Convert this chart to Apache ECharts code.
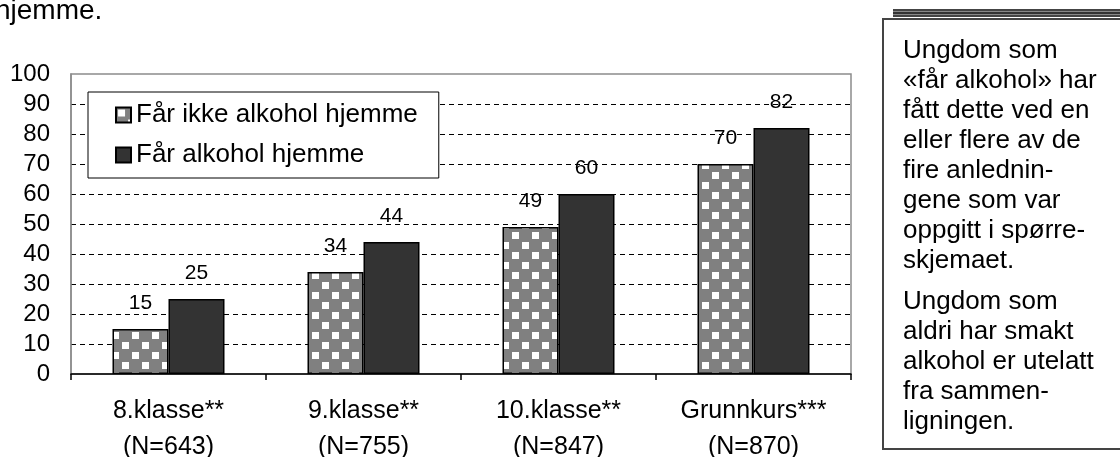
<!DOCTYPE html>
<html>
<head>
<meta charset="utf-8">
<script src="https://cdn.jsdelivr.net/npm/echarts@6/dist/echarts.min.js"></script>
<style>
    html, body { margin: 0; padding: 0; background: #fff; }
    #chart { width: 1120px; height: 457px; }
</style>
</head>
<body>
<div id="chart"></div>
<script>
// data
const categories = ['8.klasse**\n(N=643)', '9.klasse**\n(N=755)', '10.klasse**\n(N=847)', 'Grunnkurs***\n(N=870)']
const seriesNames = ['Får ikke alkohol hjemme', 'Får alkohol hjemme']
const ikkeHjemme = [15, 34, 49, 70]
const hjemme = [25, 44, 60, 82]
const yTicks = [0, 100, 10]   // min, max, interval
const boxPara1 = ['Ungdom som', '«får alkohol» har', 'fått dette ved en', 'eller flere av de', 'fire anlednin-', 'gene som var', 'oppgitt i spørre-', 'skjemaet.']
const boxPara2 = ['Ungdom som', 'aldri har smakt', 'alkohol er utelatt', 'fra sammen-', 'ligningen.']
const topText = 'hjemme.'

const font = "'Liberation Sans', Arial, sans-serif"

// grått mønster med hvite ruter
function makePattern() {
    const c = document.createElement('canvas')
    c.width = 20
    c.height = 20
    const g = c.getContext('2d')
    g.fillStyle = '#808080'
    g.fillRect(0, 0, 20, 20)
    g.fillStyle = '#ffffff'
    g.fillRect(2, 2, 7, 7)
    g.fillRect(12, 12, 7, 7)
    return c
}

// splitLine farger: ingen linje ved 0 og 100
const gridColors = []
for (let v = yTicks[0]; v <= yTicks[1]; v += yTicks[2]) {
    gridColors.push(v === yTicks[0] || v === yTicks[1] ? 'rgba(0,0,0,0)' : '#000')
}

let option = {
    animation: false,
    textStyle: { fontFamily: font },
    grid: {
        left: 71,
        right: 269,
        top: 74,
        bottom: 83,
        containLabel: false,
        outerBoundsMode: 'none',
        show: true,
        borderColor: '#8c8c8c',
        borderWidth: 1.5,
        backgroundColor: '#fff'
    },
    legend: {
        orient: 'vertical',
        left: 88,
        top: 92,
        itemWidth: 15,
        itemHeight: 15,
        itemGap: 14,
        padding: [10, 21, 10, 27],
        borderColor: '#000',
        borderWidth: 1,
        backgroundColor: '#fff',
        icon: 'rect',
        textStyle: { fontSize: 26, color: '#000', fontFamily: font },
        data: seriesNames
    },
    xAxis: {
        type: 'category',
        data: categories,
        axisLine: { lineStyle: { color: '#000', width: 1.5 } },
        axisTick: { show: true, length: 6, lineStyle: { color: '#000', width: 1.5 } },
        axisLabel: { fontSize: 25, color: '#000', margin: 19, lineHeight: 36, fontFamily: font, interval: 0 }
    },
    yAxis: {
        type: 'value',
        min: yTicks[0],
        max: yTicks[1],
        interval: yTicks[2],
        axisLine: { show: true, lineStyle: { color: '#8c8c8c', width: 1.5 } },
        axisTick: { show: false },
        axisLabel: { fontSize: 24, color: '#000', margin: 21, fontFamily: font },
        splitLine: { show: true, lineStyle: { color: gridColors, type: [5, 4], width: 1 } }
    },
    series: [
        {
            name: seriesNames[0],
            type: 'bar',
            data: ikkeHjemme,
            barWidth: 56,
            barGap: '0%',
            itemStyle: { color: { image: makePattern(), repeat: 'repeat' }, borderColor: '#000', borderWidth: 1.5 },
            label: { show: true, position: 'top', distance: 15, fontSize: 21, color: '#000', fontFamily: font }
        },
        {
            name: seriesNames[1],
            type: 'bar',
            data: hjemme,
            barWidth: 56,
            itemStyle: { color: '#333333', borderColor: '#000', borderWidth: 1.5 },
            label: { show: true, position: 'top', distance: 15, fontSize: 21, color: '#000', fontFamily: font }
        }
    ],
    graphic: [
        // tekst øverst til venstre (avkuttet)
        {
            type: 'text', left: -5, top: -3,
            style: { text: topText, fontSize: 28, fill: '#000', fontFamily: font }
        },
        // dobbel linje over boksen
        { type: 'rect', shape: { x: 893, y: 9, width: 230, height: 2 }, style: { fill: '#444' } },
        { type: 'rect', shape: { x: 893, y: 11, width: 230, height: 1 }, style: { fill: '#888' } },
        { type: 'rect', shape: { x: 893, y: 12, width: 230, height: 2 }, style: { fill: '#333' } },
        { type: 'rect', shape: { x: 893, y: 14, width: 230, height: 1 }, style: { fill: '#888' } },
        { type: 'rect', shape: { x: 893, y: 15, width: 230, height: 2 }, style: { fill: '#444' } },
        // tekstboks
        {
            type: 'rect',
            shape: { x: 883, y: 19, width: 260, height: 430 },
            style: { fill: '#fff', stroke: '#444', lineWidth: 2 }
        },
        {
            type: 'text', x: 903, y: 36,
            style: { text: boxPara1.join('\n'), fontSize: 26, lineHeight: 30, fill: '#000', fontFamily: font }
        },
        {
            type: 'text', x: 903, y: 287,
            style: { text: boxPara2.join('\n'), fontSize: 26, lineHeight: 30, fill: '#000', fontFamily: font }
        }
    ]
}

const myChart = echarts.init(document.getElementById('chart'))
myChart.setOption(option)
</script>
</body>
</html>
